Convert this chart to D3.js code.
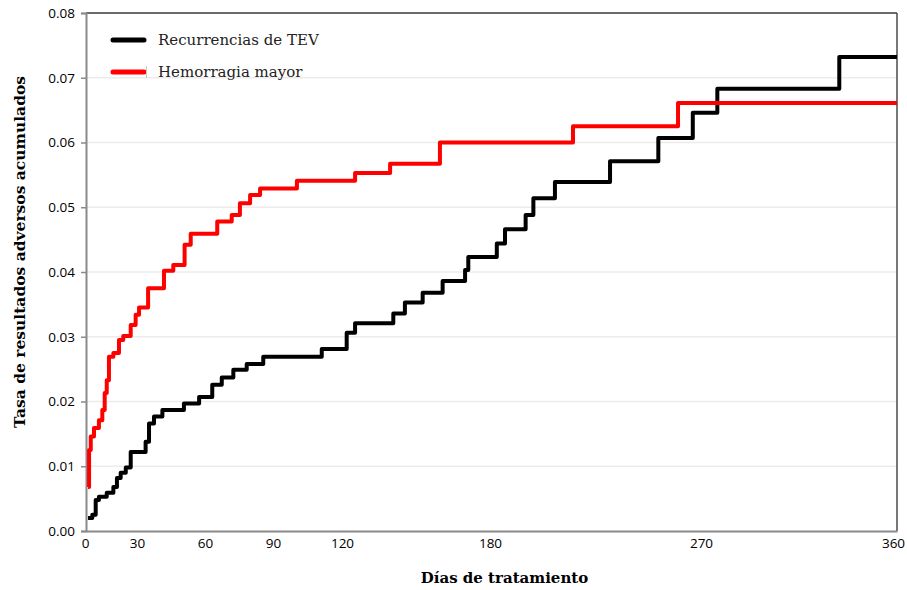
<!DOCTYPE html>
<html>
<head>
<meta charset="utf-8">
<script src="https://cdn.jsdelivr.net/npm/d3@7"></script>
<style>
  html, body { margin: 0; padding: 0; background: #fff; }
  svg { display: block; }
</style>
</head>
<body>
<svg id="chart" width="907" height="590"></svg>
<script>
// ---- Data ----
const xTicks = [0, 30, 60, 90, 120, 180, 270, 360];
const yTicks = [0, 0.01, 0.02, 0.03, 0.04, 0.05, 0.06, 0.07, 0.08];
const seriesNames = ["Recurrencias de TEV", "Hemorragia mayor"];

const tevDays = [1.2, 3.7, 5.7, 7.6, 12.2, 16.1, 18.2, 20.4, 23.4, 26.3, 33.8, 35.3, 37.5, 41.2, 50.7, 57.4, 63.2, 67.4, 72.5, 78.4, 85.7, 111.2, 121.9, 125.3, 140.8, 145.5, 152.7, 160.8, 169.9, 171.2, 182.9, 186.4, 195.2, 198.5, 207.7, 231.2, 251.8, 266.5, 277.5, 333.5, 360];
const tevVals = [0.0020, 0.0025, 0.0048, 0.0053, 0.0059, 0.0068, 0.0082, 0.0090, 0.0098, 0.0122, 0.0138, 0.0166, 0.0177, 0.0187, 0.0197, 0.0207, 0.0226, 0.0237, 0.0249, 0.0258, 0.0269, 0.0281, 0.0306, 0.0321, 0.0336, 0.0353, 0.0368, 0.0386, 0.0403, 0.0423, 0.0444, 0.0466, 0.0488, 0.0514, 0.0539, 0.0571, 0.0607, 0.0646, 0.0683, 0.0732, 0.0732];

const hemDays = [1.2, 1.8, 2.8, 4.7, 7.6, 9.6, 11.0, 12.2, 13.5, 16.1, 19.4, 21.9, 26.3, 29.2, 30.9, 34.9, 41.9, 46.0, 51.0, 53.7, 65.4, 71.8, 75.4, 79.9, 84.3, 100.4, 125.3, 139.5, 159.7, 215.4, 260.2, 360];
const hemVals = [0.0068, 0.0125, 0.0146, 0.0159, 0.0171, 0.0187, 0.0213, 0.0233, 0.0269, 0.0275, 0.0295, 0.0301, 0.0318, 0.0334, 0.0345, 0.0375, 0.0402, 0.0411, 0.0442, 0.0459, 0.0478, 0.0488, 0.0506, 0.0519, 0.0529, 0.0541, 0.0553, 0.0567, 0.0600, 0.0625, 0.0661, 0.0661];

const colors = ["#000000", "#ff0000"];

// ---- Layout ----
const svg = d3.select("#chart");
const L = 86, R = 897, T = 13, B = 531;

// the reference's day axis is not evenly spaced between labels: piecewise linear
const x = d3.scaleLinear().domain(xTicks).range([L, 137, 205, 273, 342, 490, 701, R]);
const y = d3.scaleLinear().domain([0, 0.08]).range([B, T]);

// gridlines
svg.append("g")
  .selectAll("line")
  .data(yTicks.filter(d => d > 0 && d < 0.08))
  .join("line")
  .attr("x1", L).attr("x2", R)
  .attr("y1", d => y(d)).attr("y2", d => y(d))
  .attr("stroke", "#ececec").attr("stroke-width", 1.5);

// frame top & right
svg.append("line").attr("x1", L).attr("x2", R).attr("y1", T).attr("y2", T)
  .attr("stroke", "#3a3a3a").attr("stroke-width", 1.5);
svg.append("line").attr("x1", R).attr("x2", R).attr("y1", T).attr("y2", B)
  .attr("stroke", "#4a4a4a").attr("stroke-width", 1.5);

const tickFont = "'Open Sans', 'Noto Sans', sans-serif";

// y axis
const yAxis = d3.axisLeft(y).tickValues(yTicks).tickFormat(d3.format(".2f")).tickSize(5).tickPadding(6);
const gy = svg.append("g").attr("transform", `translate(${L},0)`).call(yAxis);
gy.select(".domain").attr("stroke", "#8a8a8a").attr("stroke-width", 2);
gy.selectAll(".tick line").attr("stroke", "#8a8a8a").attr("stroke-width", 1.5);
gy.selectAll(".tick text").attr("font-family", tickFont).attr("font-size", 13.5).attr("fill", "#000");

// x axis
const xAxis = d3.axisBottom(x).tickValues(xTicks).tickFormat(d3.format("d")).tickSize(0).tickPadding(7);
const gx = svg.append("g").attr("transform", `translate(0,${B})`).call(xAxis);
gx.select(".domain").attr("stroke", "#8a8a8a").attr("stroke-width", 2);
gx.selectAll(".tick text").attr("font-family", tickFont).attr("font-size", 13.5).attr("fill", "#000");
gx.selectAll(".tick text").filter(d => d === 360).attr("dx", -4);
gx.selectAll(".tick text").filter(d => d === 0).attr("dx", -1);

// lines
const line = d3.line().x(d => x(d[0])).y(d => y(d[1])).curve(d3.curveStepAfter);
const series = [
  d3.zip(tevDays, tevVals),
  d3.zip(hemDays, hemVals)
];
series.forEach((s, i) => {
  svg.append("path").datum(s)
    .attr("d", line)
    .attr("fill", "none")
    .attr("stroke", colors[i])
    .attr("stroke-width", 4)
    .attr("stroke-linejoin", "round")
    .attr("stroke-linecap", "butt");
});

// legend
const legend = svg.append("g");
seriesNames.forEach((name, i) => {
  const ly = 40 + i * 32;
  legend.append("line").attr("x1", 113).attr("x2", 144).attr("y1", ly).attr("y2", ly)
    .attr("stroke", colors[i]).attr("stroke-width", 5).attr("stroke-linecap", "round");
  legend.append("text").attr("x", 158).attr("y", ly + 5)
    .attr("font-family", "'DejaVu Serif', 'Liberation Serif', serif")
    .attr("font-size", 15).attr("fill", "#222")
    .text(name);
});
// small separator mark next to the second legend swatch
legend.append("line").attr("x1", 146.5).attr("x2", 146.5).attr("y1", 66).attr("y2", 78)
  .attr("stroke", "#c8c8c8").attr("stroke-width", 1);

// axis titles
svg.append("text")
  .attr("x", (L + R) / 2 + 13).attr("y", 583)
  .attr("text-anchor", "middle")
  .attr("font-family", "'DejaVu Serif', 'Liberation Serif', serif")
  .attr("font-weight", "bold").attr("font-size", 15)
  .text("Días de tratamiento");

svg.append("text")
  .attr("transform", `translate(25,252) rotate(-90)`)
  .attr("text-anchor", "middle")
  .attr("font-family", "'DejaVu Serif', 'Liberation Serif', serif")
  .attr("font-weight", "bold").attr("font-size", 15.5)
  .text("Tasa de resultados adversos acumulados");
</script>
</body>
</html>
